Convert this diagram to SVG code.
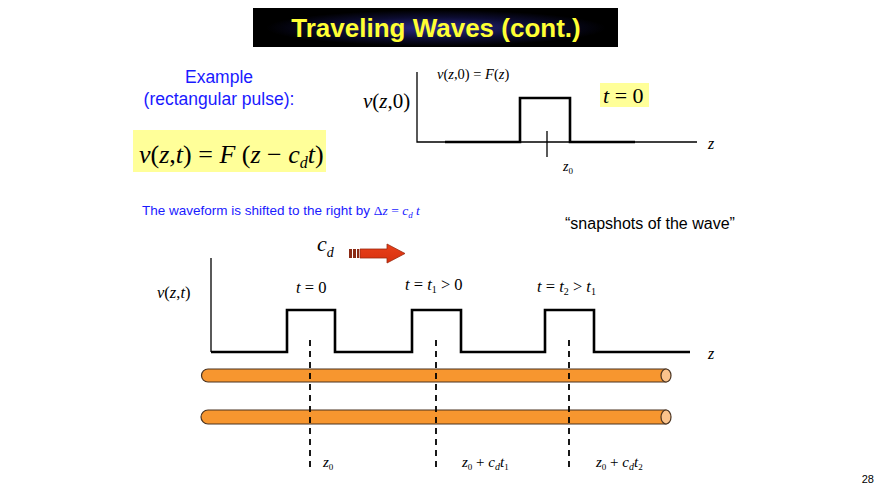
<svg xmlns="http://www.w3.org/2000/svg" width="880" height="495" viewBox="0 0 880 495">
<defs>
<radialGradient id="glow" cx="0.5" cy="0.5" r="0.5">
<stop offset="0" stop-color="#2a2a8a"/>
<stop offset="0.6" stop-color="#0c0c30"/>
<stop offset="1" stop-color="#000000"/>
</radialGradient>
<linearGradient id="arr" x1="0" y1="0" x2="0" y2="1">
<stop offset="0" stop-color="#e8401a"/>
<stop offset="1" stop-color="#d8300e"/>
</linearGradient>
</defs>
<style>
.m{font-family:"Liberation Serif","Times New Roman",serif;font-style:italic;fill:#000}
.u{font-style:normal}
.s{font-family:"Liberation Sans",Arial,sans-serif}
.w{fill:none;stroke:#000;stroke-width:2.6}
.ax{fill:none;stroke:#000;stroke-width:1.3}
.dash{fill:none;stroke:#000;stroke-width:1.8;stroke-dasharray:6,5}
.cyl{fill:#f7962f;stroke:#4a3320;stroke-width:1.2}
.cap{fill:#fac38c;stroke:#4a3320;stroke-width:1.2}
</style>
<rect width="880" height="495" fill="#fff"/>

<g id="title">
<rect x="253" y="8" width="365" height="39" fill="#000"/>
<ellipse cx="436" cy="28" rx="170" ry="18" fill="url(#glow)"/>
<text x="436" y="37" text-anchor="middle" class="s" font-size="26" font-weight="bold" fill="#ffff33">Traveling Waves (cont.)</text>
</g>

<g id="example">
<text x="219" y="83" text-anchor="middle" class="s" font-size="17.5" fill="#1a1aff">Example</text>
<text x="219" y="105" text-anchor="middle" class="s" font-size="17.5" fill="#1a1aff">(rectangular pulse):</text>
</g>

<g id="formula">
<rect x="133" y="130" width="193" height="42" fill="#ffff99"/>
<text x="139" y="163" class="m" font-size="26">v<tspan class="u">(</tspan>z<tspan class="u">,</tspan>t<tspan class="u">) = </tspan>F<tspan class="u"> (</tspan>z<tspan class="u"> − </tspan>c<tspan font-size="16" dy="5">d</tspan><tspan dy="-5">t</tspan><tspan class="u">)</tspan></text>
</g>

<g id="top-graph">
<path class="ax" d="M417,72 V142 H697"/>
<path class="w" d="M445,142 H520 V98 H570 V142 H635"/>
<line x1="547" y1="131" x2="547" y2="157" stroke="#000" stroke-width="1.3"/>
<text x="563" y="171" class="m" font-size="14">z<tspan class="u" font-size="9" dy="3">0</tspan></text>
<text x="708" y="149" class="m" font-size="16">z</text>
<text x="363" y="108" class="m" font-size="21">v<tspan class="u">(</tspan>z<tspan class="u">,0)</tspan></text>
<text x="437" y="79" class="m" font-size="14.5">v<tspan class="u">(</tspan>z<tspan class="u">,0) = </tspan>F<tspan class="u">(</tspan>z<tspan class="u">)</tspan></text>
<rect x="600" y="83" width="49" height="24" fill="#ffff99"/>
<text x="603" y="103" class="m" font-size="22">t<tspan class="u"> = 0</tspan></text>
</g>

<g id="shift-text">
<text x="142" y="215" class="s" font-size="13.5" fill="#1a1aff">The waveform is shifted to the right by <tspan class="m" style="fill:#1a1aff"><tspan class="u">Δ</tspan>z<tspan class="u"> = </tspan>c<tspan font-size="9" dy="3">d</tspan><tspan dy="-3"> t</tspan></tspan></text>
<text x="565" y="229" class="s" font-size="16" fill="#000">“snapshots of the wave”</text>
</g>

<g id="velocity">
<text x="317" y="251" class="m" font-size="22">c<tspan font-size="14" dy="6">d</tspan></text>
<rect x="349" y="249" width="3" height="9" fill="#8b2a14"/>
<rect x="353" y="249" width="3" height="9" fill="#8b2a14"/>
<rect x="357" y="249" width="2" height="9" fill="#8b2a14"/>
<path d="M360,249 H387 V244 L405,253.5 L387,263 V258 H360 Z" fill="url(#arr)" stroke="#9a2a10" stroke-width="0.8"/>
</g>

<g id="bottom-graph">
<path class="ax" d="M211,258 V352"/>
<path class="w" d="M211,352 H287 V310 H335 V352 H412 V310 H461 V352 H545 V310 H594 V352 H690"/>
<text x="708" y="359" class="m" font-size="16">z</text>
<text x="157" y="298" class="m" font-size="16.5">v<tspan class="u">(</tspan>z<tspan class="u">,</tspan>t<tspan class="u">)</tspan></text>
<text x="296" y="293" class="m" font-size="16.5">t<tspan class="u"> = 0</tspan></text>
<text x="405" y="290" class="m" font-size="16.5">t<tspan class="u"> = </tspan>t<tspan class="u" font-size="10" dy="3">1</tspan><tspan class="u" dy="-3"> &gt; 0</tspan></text>
<text x="537" y="292" class="m" font-size="16.5">t<tspan class="u"> = </tspan>t<tspan class="u" font-size="10" dy="3">2</tspan><tspan class="u" dy="-3"> &gt; </tspan>t<tspan class="u" font-size="10" dy="3">1</tspan></text>
</g>

<g id="line-top">
<path class="cyl" d="M208,369 H666 V382 H208 A6.5,6.5 0 0 1 208,369 Z"/>
<ellipse class="cap" cx="666" cy="375.5" rx="5" ry="6.5"/>
</g>
<g id="line-bottom">
<path class="cyl" d="M208,410 H666 V424 H208 A7,7 0 0 1 208,410 Z"/>
<ellipse class="cap" cx="666" cy="417" rx="5" ry="7"/>
</g>

<g id="markers">
<line class="dash" x1="310" y1="340" x2="310" y2="468"/>
<line class="dash" x1="436" y1="340" x2="436" y2="468"/>
<line class="dash" x1="569" y1="340" x2="569" y2="468"/>
<text x="323" y="467" class="m" font-size="15">z<tspan class="u" font-size="9" dy="3">0</tspan></text>
<text x="462" y="467" class="m" font-size="15">z<tspan class="u" font-size="9" dy="3">0</tspan><tspan class="u" dy="-3"> + </tspan>c<tspan font-size="10" dy="3">d</tspan><tspan dy="-3">t</tspan><tspan class="u" font-size="9" dy="3">1</tspan></text>
<text x="596" y="467" class="m" font-size="15">z<tspan class="u" font-size="9" dy="3">0</tspan><tspan class="u" dy="-3"> + </tspan>c<tspan font-size="10" dy="3">d</tspan><tspan dy="-3">t</tspan><tspan class="u" font-size="9" dy="3">2</tspan></text>
</g>

<text x="874" y="483" text-anchor="end" class="s" font-size="11" fill="#000">28</text>
</svg>
